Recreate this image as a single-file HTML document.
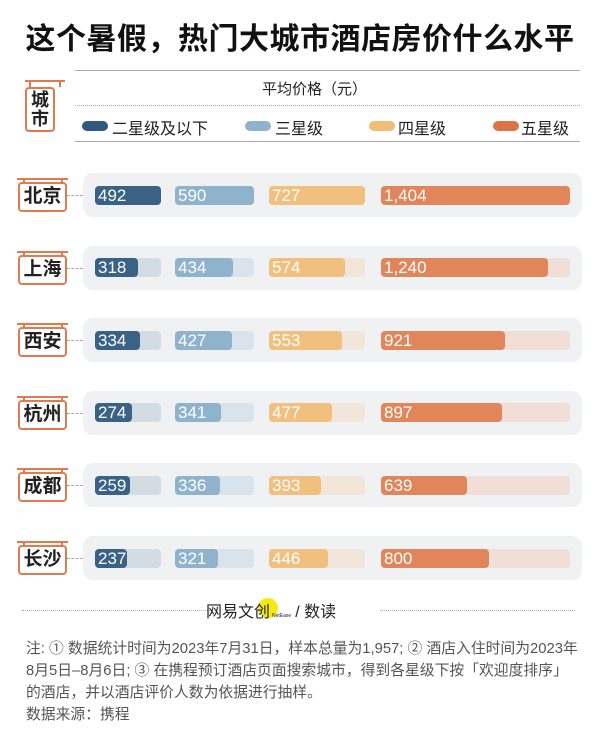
<!DOCTYPE html>
<html><head><meta charset="utf-8"><style>
*{margin:0;padding:0;box-sizing:border-box}
body{width:600px;height:738px;background:#fff;position:relative;overflow:hidden;font-family:"Liberation Sans","Noto Sans CJK SC",sans-serif}
.a{position:absolute}
.t{left:0;width:600px;top:14px;text-align:center;font-size:30px;font-weight:bold;color:#111;letter-spacing:0.5px}
.panel{left:83px;width:499px;height:44px;background:#f0f1f2;border-radius:10px}
.tr{height:19px;border-radius:4px}
.bar{height:19px;border-radius:4px;color:#fff;font-size:17px;line-height:19px;padding-left:3px;white-space:nowrap}
.city{left:18px;width:49px;height:30px;border:2px solid #e07a4f;border-radius:4px;font-size:19px;font-weight:bold;color:#222;text-align:center;line-height:26px;background:#fff}
.hang{left:17px;width:51px;height:2px;background:#e07a4f}
.post{width:2px;height:6px;background:#e07a4f}
.dash{left:67px;width:16px;border-top:1px dashed #aaa}
.leg{height:10px;width:26px;border-radius:5px}
.lt{font-size:16px;color:#222}
.note{left:26px;font-size:14.8px;color:#555;line-height:22px;white-space:nowrap}
</style></head><body>
<div class="a t">这个暑假，热门大城市酒店房价什么水平</div>
<div class="a" style="left:75px;width:505px;top:70px;border-top:1px solid #aaa"></div>
<div class="a" style="left:262px;top:78px;font-size:15px;color:#222">平均价格（元）</div>
<div class="a" style="left:75px;width:505px;top:105px;border-top:1px dotted #aaa"></div>
<div class="a" style="left:75px;width:505px;top:141px;border-top:1px solid #aaa"></div>
<div class="a leg" style="left:82px;top:121px;background:#2f5a80"></div><div class="a lt" style="left:112px;top:115px">二星级及以下</div>
<div class="a leg" style="left:245px;top:121px;background:#8fb3cc"></div><div class="a lt" style="left:275px;top:115px">三星级</div>
<div class="a leg" style="left:369px;top:121px;background:#f1bd77"></div><div class="a lt" style="left:398px;top:115px">四星级</div>
<div class="a leg" style="left:493px;top:121px;background:#dd7448"></div><div class="a lt" style="left:521px;top:115px">五星级</div>
<div class="a hang" style="left:25px;width:40px;top:80px"></div>
<div class="a post" style="left:29px;top:81px"></div><div class="a post" style="left:59px;top:81px"></div>
<div class="a" style="left:25px;top:87px;width:30px;height:45px;border:2px solid #e07a4f;border-radius:4px;font-size:18px;font-weight:bold;line-height:19px;text-align:center;padding-top:2px;color:#222">城<br>市</div>
<div id="rows"></div>
<script>
var d=[["北京",492,590,727,1404],["上海",318,434,574,1240],["西安",334,427,553,921],["杭州",274,341,477,897],["成都",259,336,393,639],["长沙",237,321,446,800]];
var g=[[95,66,492,"#3a6186","#d3dbe3"],[175,79,590,"#8fb3cc","#d9e3eb"],[269,96,727,"#f1c07f","#f2e6da"],[381,189,1404,"#e0865a","#f1dfd7"]];
var h="";
d.forEach(function(r,i){var c=195+i*72.6;
h+='<div class="a panel" style="top:'+(c-22)+'px"></div>';
h+='<div class="a dash" style="top:'+c+'px"></div>';
h+='<div class="a hang" style="top:'+(c-17)+'px"></div><div class="a post" style="left:23px;top:'+(c-16)+'px"></div><div class="a post" style="left:61px;top:'+(c-16)+'px"></div>';
h+='<div class="a city" style="top:'+(c-13)+'px">'+r[0]+'</div>';
for(var k=0;k<4;k++){var G=g[k];var w=Math.round(r[k+1]/G[2]*G[1]);
h+='<div class="a tr" style="left:'+G[0]+'px;width:'+G[1]+'px;top:'+(c-9.5)+'px;background:'+G[4]+'"></div>';
h+='<div class="a bar" style="left:'+G[0]+'px;width:'+w+'px;top:'+(c-9.5)+'px;background:'+G[3]+'">'+r[k+1].toLocaleString('en-US')+'</div>';}
});
document.getElementById("rows").innerHTML=h;
</script>
<div class="a" style="left:22px;width:190px;top:610px;border-top:1px dotted #aaa"></div>
<div class="a" style="left:380px;width:195px;top:610px;border-top:1px dotted #aaa"></div>
<div class="a" style="left:258px;top:598px;width:20px;height:20px;border-radius:10px;background:#f5ea10"></div>
<div class="a" style="left:206px;top:598px;font-size:16px;color:#222;white-space:nowrap">网易文创<span style="font-size:5px;margin:0 4px 0 2px">NetEase</span>/ 数读</div>
<div class="a note" style="top:638px">注: ① 数据统计时间为2023年7月31日，样本总量为1,957; ② 酒店入住时间为2023年<br>8月5日–8月6日; ③ 在携程预订酒店页面搜索城市，得到各星级下按「欢迎度排序」<br>的酒店，并以酒店评价人数为依据进行抽样。</div>
<div class="a note" style="top:704px">数据来源：携程</div>
</body></html>
